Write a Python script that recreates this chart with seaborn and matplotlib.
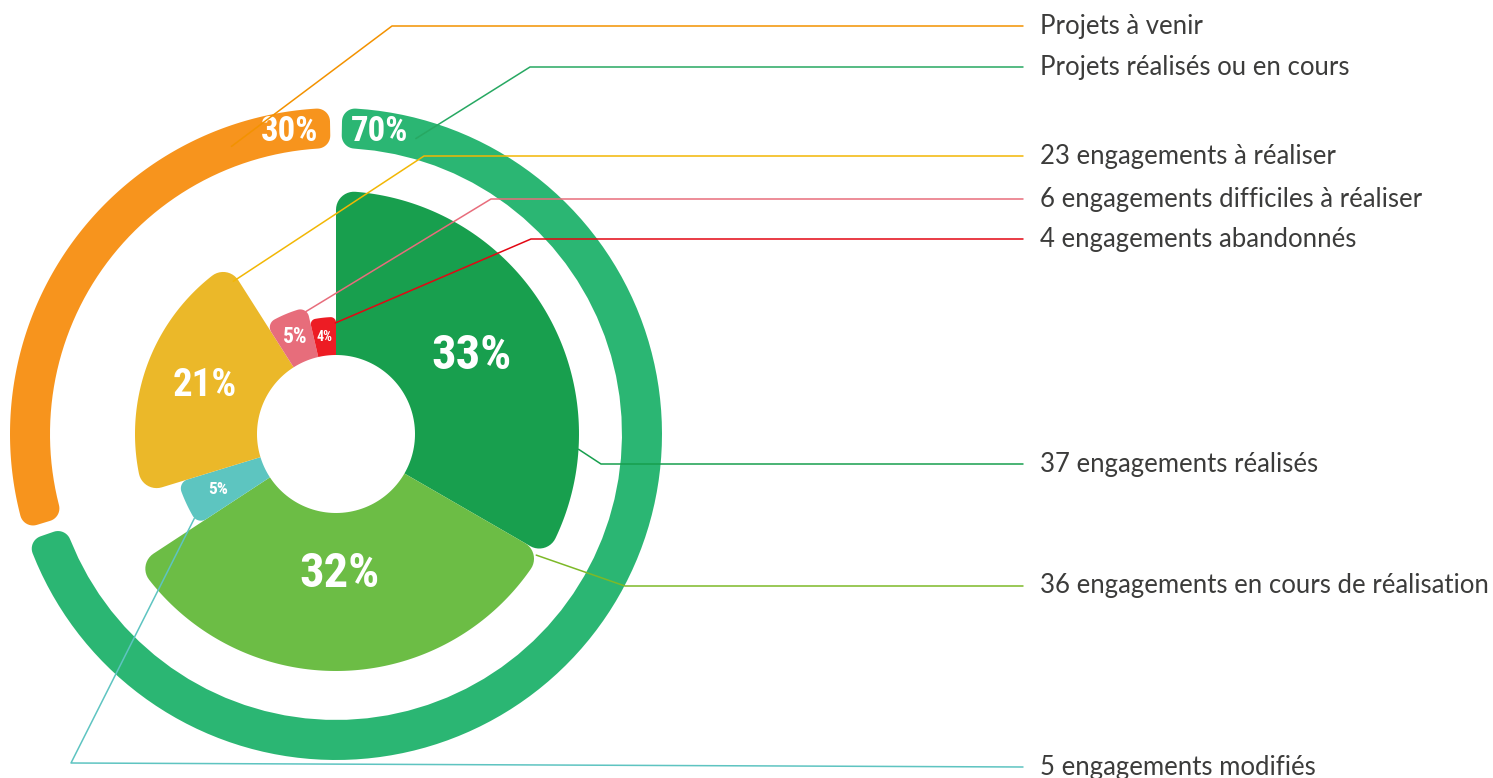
import numpy as np
import matplotlib.pyplot as plt
import seaborn as sns
from matplotlib import font_manager as fm

# ---- data ----
ring_labels = ["Projets à venir", "Projets réalisés ou en cours"]
ring_shares = [30, 70]
ring_pcts = ["30%", "70%"]

eng_labels = ["37 engagements réalisés", "36 engagements en cours de réalisation",
              "5 engagements modifiés", "23 engagements à réaliser",
              "6 engagements difficiles à réaliser", "4 engagements abandonnés"]
eng_counts = [37, 36, 5, 23, 6, 4]
eng_pcts = ["33%", "32%", "5%", "21%", "5%", "4%"]

# ---- style / layout ----
W, H = 1493, 778
cx, cy = 336, 434
hole_r = 79
seg_r = [243, 237, 165, 201, 130, 117]          # outer radius of each wedge (px)
seg_lab_r = [156, 140, 130, 140, 105, 98]        # where the % sits
seg_lab_fs = [35, 35, 12.5, 28, 15.5, 10]
ring_in, ring_out = 286, 326
ring_gap = 1.1                                   # degrees at each end

ring_colors = ["#F7941D", "#2BB673"]
ring_line_colors = ["#F39200", "#27A862"]
seg_colors = ["#189F4E", "#6CBD45", "#5DC5C0", "#EBB829", "#E76D7B", "#ED1C24"]
seg_line_colors = ["#179F4E", "#7DB928", "#5EC4C1", "#F2B705", "#E86D7C", "#E30613"]
text_color = "#3C3C3B"

# leader lines: anchor as fraction along the wedge + radius, elbow, label line y
ring_anchor = [(0.185, 306), (0.06, 306)]
ring_elbow = [(392, 26), (530, 67)]
ring_line_y = [26, 67]
seg_anchor = [(0.78, 243), (0.01, 234), (0.15, 165), (0.98, 184), (0.95, 126), (0.97, 111)]
seg_elbow = [(601, 464), (625, 586), (71, 763), (424, 156), (491, 199), (531, 239)]
seg_line_y = [464, 586, 767, 156, 199, 239]
line_end_x, text_x = 1023, 1040

sns.set_theme(style="white")
names = {f.name for f in fm.fontManager.ttflist}
cond_font = next((n for n in ["Liberation Sans Narrow", "DejaVu Sans Condensed",
                              "Roboto Condensed", "Open Sans Condensed"] if n in names),
                 "DejaVu Sans")
plt.rcParams["font.family"] = ["Lato", "DejaVu Sans"]


def to_px(theta_deg, r):
    t = np.radians(theta_deg)
    return cx + r * np.cos(t), cy - r * np.sin(t)


def arc(x0, y0, rad, a0, a1, n=30):
    a = np.linspace(a0, a1, n)
    return list(zip(x0 + rad * np.cos(a), y0 + rad * np.sin(a)))


def rounded_sector(t1, t2, r0, r1, rc_out, rc_in=0.0):
    # t1 < t2 in degrees (math convention), returns pixel polygon
    t1, t2 = np.radians(t1), np.radians(t2)
    pts = []
    if rc_in > 0:
        d = r0 + rc_in
        ta = t1 + np.arcsin(rc_in / d)
        pts += arc(d * np.cos(ta), d * np.sin(ta), rc_in, ta + np.pi, t1 + 1.5 * np.pi, 12)
    else:
        ta = t1
        pts.append((r0 * np.cos(t1), r0 * np.sin(t1)))
    d = r1 - rc_out
    tb = t1 + np.arcsin(rc_out / d)
    pts += arc(d * np.cos(tb), d * np.sin(tb), rc_out, t1 - 0.5 * np.pi, tb, 12)
    tc = t2 - np.arcsin(rc_out / d)
    pts += arc(0, 0, r1, tb, tc, 120)
    pts += arc(d * np.cos(tc), d * np.sin(tc), rc_out, tc, t2 + 0.5 * np.pi, 12)
    if rc_in > 0:
        d = r0 + rc_in
        td = t2 - np.arcsin(rc_in / d)
        pts += arc(d * np.cos(td), d * np.sin(td), rc_in, t2 + 0.5 * np.pi, td + np.pi, 12)
    else:
        td = t2
        pts.append((r0 * np.cos(t2), r0 * np.sin(t2)))
    pts += arc(0, 0, r0, td, ta, 60)
    xy = np.array(pts)
    return cx + xy[:, 0], cy - xy[:, 1]


fig = plt.figure(figsize=(W / 100, H / 100), dpi=100)
ax = fig.add_axes([0, 0, 1, 1])
ax.set_xlim(0, W)
ax.set_ylim(H, 0)
ax.axis("off")

# outer ring: first share counter-clockwise from the top, second clockwise
ring_deg = np.array(ring_shares) / sum(ring_shares) * 360
ring_spans = [(90 + ring_gap, 90 + ring_deg[0] - ring_gap),
              (90 + ring_deg[0] + ring_gap, 450 - ring_gap)]
for (a, b), col in zip(ring_spans, ring_colors):
    x, y = rounded_sector(a, b, ring_in, ring_out, 13, 13)
    ax.fill(x, y, color=col, lw=0, zorder=1)

# inner rose: wedges clockwise from the top
cum = np.concatenate([[0], np.cumsum(eng_counts)]) / sum(eng_counts) * 360
seg_spans = [(90 - cum[i + 1], 90 - cum[i]) for i in range(len(eng_counts))]
for (a, b), r, col in zip(seg_spans, seg_r, seg_colors):
    rc = min(18, 0.2 * r * np.radians(b - a))
    x, y = rounded_sector(a, b, hole_r, r, rc)
    ax.fill(x, y, color=col, lw=0, zorder=2)

pct_kw = dict(color="white", ha="center", va="center", family=[cond_font, "DejaVu Sans"],
              fontweight="bold", fontstretch="condensed", zorder=5)
for (a, b), lr, fs, txt in zip(seg_spans, seg_lab_r, seg_lab_fs, eng_pcts):
    x, y = to_px((a + b) / 2, lr)
    ax.text(x, y, txt, fontsize=fs, **pct_kw)
for ang, txt in zip([90 + 8.7, 90 - 8.2], ring_pcts):
    x, y = to_px(ang, 306)
    ax.text(x, y, txt, fontsize=25, **pct_kw)

# leader lines and labels
ring_dirs = [(90, 90 + ring_deg[0]), (90, 90 - ring_deg[1])]
for (s, e), (f, r), (ex, ey), ly, col, lab in zip(ring_dirs, ring_anchor, ring_elbow,
                                                   ring_line_y, ring_line_colors, ring_labels):
    x0, y0 = to_px(s + f * (e - s), r)
    ax.plot([x0, ex, line_end_x], [y0, ey, ly], color=col, lw=1.1, zorder=6)
    ax.text(text_x, ly + 7.5, lab, fontsize=18.5, color=text_color, va="baseline", ha="left")

for (a, b), (f, r), (ex, ey), ly, col, lab in zip(seg_spans, seg_anchor, seg_elbow,
                                                   seg_line_y, seg_line_colors, eng_labels):
    x0, y0 = to_px(b - f * (b - a), r)
    ax.plot([x0, ex, line_end_x], [y0, ey, ly], color=col, lw=1.1, zorder=6)
    ax.text(text_x, ly + 7.5, lab, fontsize=18.5, color=text_color, va="baseline", ha="left")

fig.savefig("out.png", dpi=100)
